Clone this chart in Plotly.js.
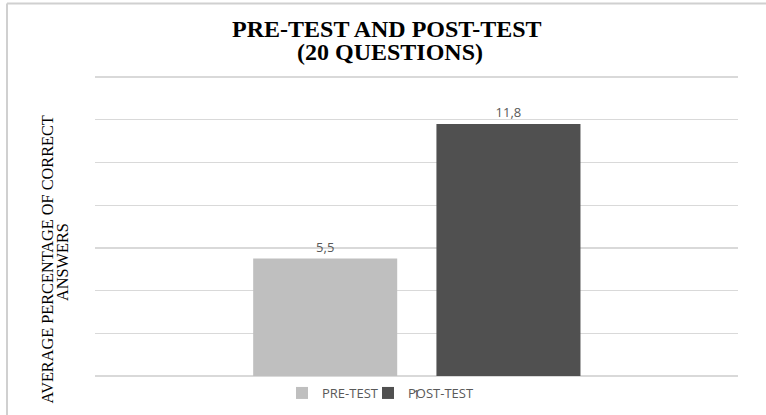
<!DOCTYPE html>
<html>
<head>
<meta charset="utf-8">
<script src="https://cdn.plot.ly/plotly-3.0.1.min.js"></script>
<style>html,body{margin:0;padding:0;background:#fff;}#chart{width:766px;height:415px;}</style>
</head>
<body>
<div id="chart"></div>
<script>
const categories = ['1'];
const seriesNames = ['PRE-TEST', 'POST-TEST'];
const preTest = [5.5];
const postTest = [11.8];
const titleLines = ['PRE-TEST AND POST-TEST', '(20 QUESTIONS)'];
const yTitleLines = ['AVERAGE PERCENTAGE OF CORRECT', 'ANSWERS'];

const W = 766, H = 415;
const L = 95, R = 28, T = 76, B = 39;
const pw = W - L - R, ph = H - T - B;
const px = v => (v - L) / pw;
const py = v => (H - B - v) / ph;

const labelFont = {family: 'Open Sans, sans-serif', size: 13, color: '#595959'};
const serifTitle = {family: 'Liberation Serif, Times New Roman, serif', size: 24, color: '#000000', weight: 'bold'};
const serifAxis = {family: 'Liberation Serif, Times New Roman, serif', size: 16.3, color: '#000000'};

const traces = [
  {type: 'bar', name: seriesNames[0], x: categories, y: preTest, legend: 'legend',
   marker: {color: '#bfbfbf'}, width: 0.224, offset: -0.254,
   texttemplate: '%{y:.1f}', textposition: 'outside',
   textfont: labelFont, cliponaxis: false, hoverinfo: 'skip'},
  {type: 'bar', name: seriesNames[1], x: categories, y: postTest, legend: 'legend2',
   marker: {color: '#505050'}, width: 0.224, offset: 0.031,
   texttemplate: '%{y:.1f}', textposition: 'outside',
   textfont: labelFont, cliponaxis: false, hoverinfo: 'skip'}
];

const legendBase = {orientation: 'h', xanchor: 'left', y: py(393), yanchor: 'middle',
                    font: labelFont, bgcolor: 'rgba(0,0,0,0)', itemwidth: 30};

const layout = {
  width: W, height: H,
  margin: {l: L, r: R, t: T, b: B, pad: 0, autoexpand: false},
  paper_bgcolor: '#ffffff', plot_bgcolor: '#ffffff',
  separators: ',.',
  barmode: 'group',
  title: {text: titleLines[0], x: 0.505, xanchor: 'center', yref: 'container', y: 1 - 28.5 / H, yanchor: 'middle',
          font: serifTitle},
  xaxis: {type: 'category', range: [-0.5, 0.5], showgrid: false, showline: false, zeroline: false,
          ticks: '', showticklabels: true, tickfont: {family: 'Open Sans, sans-serif', size: 12, color: '#595959'},
          ticklabelstandoff: 10, automargin: false, fixedrange: true},
  yaxis: {range: [0, 14.05], dtick: 2, showticklabels: false, ticks: '',
          showgrid: true, gridcolor: '#d9d9d9', gridwidth: 1.3,
          zeroline: true, zerolinecolor: '#d9d9d9', zerolinewidth: 1.3,
          showline: false, automargin: false, fixedrange: true},
  showlegend: true,
  legend: Object.assign({}, legendBase, {x: px(282)}),
  legend2: Object.assign({}, legendBase, {x: px(368)}),
  annotations: [
    {text: titleLines[1], xref: 'paper', yref: 'paper', x: px(390), y: py(52.5),
     xanchor: 'center', yanchor: 'middle', showarrow: false, font: serifTitle},
    {text: yTitleLines[0], xref: 'paper', yref: 'paper', x: px(46.5), y: py(260),
     xanchor: 'center', yanchor: 'middle', textangle: -90, showarrow: false, font: serifAxis},
    {text: yTitleLines[1], xref: 'paper', yref: 'paper', x: px(62), y: py(262),
     xanchor: 'center', yanchor: 'middle', textangle: -90, showarrow: false, font: serifAxis}
  ],
  shapes: [
    {type: 'line', xref: 'paper', yref: 'paper', x0: px(7), x1: px(7), y0: py(3.5), y1: py(416),
     line: {color: '#d0d0d0', width: 2}},
    {type: 'line', xref: 'paper', yref: 'paper', x0: px(7), x1: px(767), y0: py(3.5), y1: py(3.5),
     line: {color: '#d0d0d0', width: 2}}
  ]
};

Plotly.newPlot('chart', traces, layout, {displayModeBar: false, staticPlot: true});
</script>
</body>
</html>
